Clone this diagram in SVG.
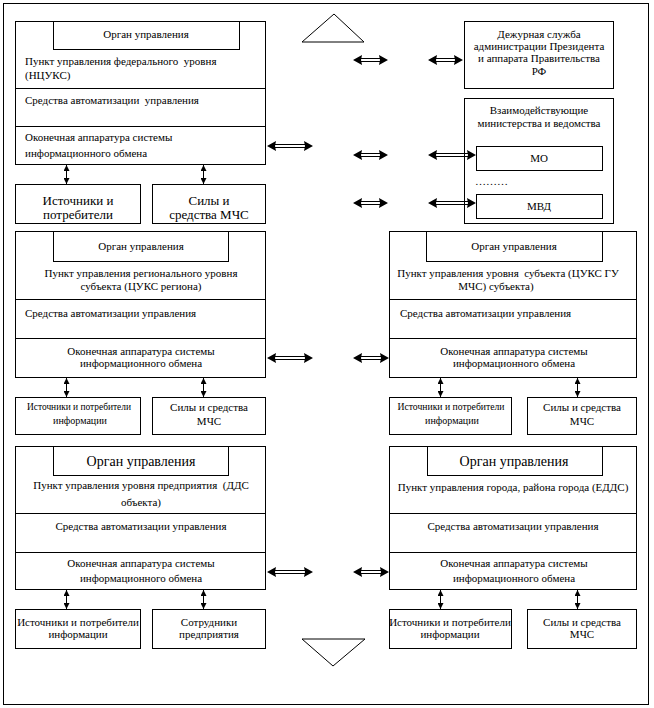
<svg xmlns="http://www.w3.org/2000/svg" width="654" height="708" viewBox="0 0 654 708">
<style>
.b{fill:#fff;stroke:#000;stroke-width:1}
.n{fill:none;stroke:#000;stroke-width:1}
.t{font-family:'Liberation Serif','Times New Roman','DejaVu Serif',serif;font-size:11px;fill:#000}
.s{font-size:10px}
.l{font-size:13px}
.xl{font-size:14px}
.c{text-anchor:middle}
.sh{stroke:#000;stroke-width:1;fill:none}
.hd{fill:#000;stroke:none}
</style>
<defs>
<marker id="vh" viewBox="0 0 6 6" refX="6" refY="3" markerWidth="6" markerHeight="6" markerUnits="userSpaceOnUse" orient="auto-start-reverse"><path d="M0,0 L6,3 L0,6 z" fill="#000"/></marker>
</defs>
<rect x="3.5" y="3.5" width="645" height="701" class="n"/>
<g id="tri-up"><polygon points="302,42 334,14 364,42" class="n"/></g>
<g id="tri-down"><polygon points="302,639 365,639 333,666" class="n"/></g>

<g id="federal">
<rect x="15.5" y="21.5" width="250" height="143" class="b"/>
<rect x="53.5" y="21.5" width="186" height="28" class="b"/>
<line x1="15.5" y1="88.5" x2="265.5" y2="88.5" class="n"/>
<line x1="15.5" y1="126.5" x2="265.5" y2="126.5" class="n"/>
<text class="t c" x="146" y="38">Орган управления</text>
<text class="t" x="25" y="65" xml:space="preserve">Пункт управления федерального  уровня</text>
<text class="t" x="25" y="79">(НЦУКС)</text>
<text class="t" x="25" y="104" xml:space="preserve">Средства автоматизации  управления</text>
<text class="t" x="25" y="141">Оконечная аппаратура системы</text>
<text class="t" x="25" y="157">информационного обмена</text>
</g>
<g id="fed-src">
<rect x="15.5" y="184.5" width="125" height="39" class="b"/>
<text class="t l c" x="78" y="205">Источники и</text>
<text class="t l c" x="78" y="219">потребители</text>
</g>
<g id="fed-forces">
<rect x="152.5" y="184.5" width="113" height="39" class="b"/>
<text class="t l c" x="209" y="205">Силы и</text>
<text class="t l c" x="209" y="219">средства МЧС</text>
</g>

<g id="president">
<rect x="464.5" y="21.5" width="149" height="67" class="b"/>
<text class="t c" x="539" y="38">Дежурная служба</text>
<text class="t c" x="539" y="50">администрации Президента</text>
<text class="t c" x="539" y="62">и аппарата Правительства</text>
<text class="t c" x="539" y="75">РФ</text>
</g>
<g id="ministries">
<rect x="464.5" y="98.5" width="149" height="125" class="b"/>
<text class="t c" x="539" y="114">Взаимодействующие</text>
<text class="t c" x="539" y="127">министерства и ведомства</text>
<text class="t" x="475" y="185">………</text>
</g>
<g id="mo">
<rect x="476.5" y="146.5" width="126" height="24" class="b"/>
<text class="t c" x="539" y="162">МО</text>
</g>
<g id="mvd">
<rect x="476.5" y="194.5" width="126" height="24" class="b"/>
<text class="t c" x="539" y="210">МВД</text>
</g>

<g id="regional">
<rect x="15.5" y="231.5" width="250" height="146" class="b"/>
<rect x="53.5" y="231.5" width="175" height="30" class="b"/>
<line x1="15.5" y1="299.5" x2="265.5" y2="299.5" class="n"/>
<line x1="15.5" y1="338.5" x2="265.5" y2="338.5" class="n"/>
<text class="t c" x="141" y="250">Орган управления</text>
<text class="t c" x="141" y="277">Пункт управления регионального уровня</text>
<text class="t c" x="141" y="290">субъекта (ЦУКС региона)</text>
<text class="t" x="25" y="317">Средства автоматизации управления</text>
<text class="t c" x="141" y="355">Оконечная аппаратура системы</text>
<text class="t c" x="141" y="367">информационного обмена</text>
</g>
<g id="reg-src">
<rect x="15.5" y="397.5" width="125" height="37" class="b"/>
<text class="t s c" x="79" y="410" textLength="104" lengthAdjust="spacingAndGlyphs">Источники и потребители</text>
<text class="t s c" x="80" y="424">информации</text>
</g>
<g id="reg-forces">
<rect x="152.5" y="397.5" width="113" height="37" class="b"/>
<text class="t c" x="209" y="411">Силы и средства</text>
<text class="t c" x="209" y="425">МЧС</text>
</g>

<g id="subject">
<rect x="389.5" y="231.5" width="247" height="146" class="b"/>
<rect x="426.5" y="231.5" width="176" height="30" class="b"/>
<line x1="389.5" y1="299.5" x2="636.5" y2="299.5" class="n"/>
<line x1="389.5" y1="338.5" x2="636.5" y2="338.5" class="n"/>
<text class="t c" x="514" y="250">Орган управления</text>
<text class="t c" x="508" y="277" xml:space="preserve">Пункт управления уровня  субъекта (ЦУКС ГУ</text>
<text class="t c" x="496" y="290">МЧС) субъекта)</text>
<text class="t" x="400" y="317">Средства автоматизации управления</text>
<text class="t c" x="514" y="355">Оконечная аппаратура системы</text>
<text class="t c" x="514" y="367">информационного обмена</text>
</g>
<g id="sub-src">
<rect x="389.5" y="397.5" width="122" height="37" class="b"/>
<text class="t s c" x="451" y="410" textLength="107" lengthAdjust="spacingAndGlyphs">Источники и потребители</text>
<text class="t s c" x="452" y="424">информации</text>
</g>
<g id="sub-forces">
<rect x="527.5" y="397.5" width="109" height="37" class="b"/>
<text class="t c" x="582" y="411">Силы и средства</text>
<text class="t c" x="582" y="425">МЧС</text>
</g>

<g id="enterprise">
<rect x="15.5" y="446.5" width="250" height="143" class="b"/>
<rect x="53.5" y="446.5" width="175" height="29" class="b"/>
<line x1="15.5" y1="513.5" x2="265.5" y2="513.5" class="n"/>
<line x1="15.5" y1="552.5" x2="265.5" y2="552.5" class="n"/>
<text class="t xl c" x="141" y="466">Орган управления</text>
<text class="t c" x="141" y="489" xml:space="preserve">Пункт управления уровня предприятия  (ДДС</text>
<text class="t c" x="141" y="506">объекта)</text>
<text class="t c" x="141" y="530">Средства автоматизации управления</text>
<text class="t c" x="141" y="567">Оконечная аппаратура системы</text>
<text class="t c" x="141" y="582">информационного обмена</text>
</g>
<g id="ent-src">
<rect x="15.5" y="609.5" width="125" height="39" class="b"/>
<text class="t c" x="78" y="626">Источники и потребители</text>
<text class="t c" x="78" y="638">информации</text>
</g>
<g id="ent-staff">
<rect x="152.5" y="609.5" width="113" height="39" class="b"/>
<text class="t c" x="209" y="626">Сотрудники</text>
<text class="t c" x="209" y="638">предприятия</text>
</g>

<g id="city">
<rect x="389.5" y="446.5" width="247" height="143" class="b"/>
<rect x="427.5" y="446.5" width="175" height="29" class="b"/>
<line x1="389.5" y1="513.5" x2="636.5" y2="513.5" class="n"/>
<line x1="389.5" y1="552.5" x2="636.5" y2="552.5" class="n"/>
<text class="t xl c" x="514" y="466">Орган управления</text>
<text class="t c" x="513" y="491">Пункт управления города, района города (ЕДДС)</text>
<text class="t c" x="513" y="530">Средства автоматизации управления</text>
<text class="t c" x="514" y="567">Оконечная аппаратура системы</text>
<text class="t c" x="514" y="582">информационного обмена</text>
</g>
<g id="city-src">
<rect x="389.5" y="609.5" width="122" height="39" class="b"/>
<text class="t c" x="450" y="626">Источники и потребители</text>
<text class="t c" x="450" y="638">информации</text>
</g>
<g id="city-forces">
<rect x="527.5" y="609.5" width="109" height="39" class="b"/>
<text class="t c" x="582" y="626">Силы и средства</text>
<text class="t c" x="582" y="638">МЧС</text>
</g>

<g id="connectors">
<g>
<path class="sh" d="M275 144.5H305M275 147.5H305"/><path class="hd" d="M267 146L276 141L275 146L276 151ZM313 146L304 141L305 146L304 151Z"/>
<path class="sh" d="M361 58.5H380M361 61.5H380"/><path class="hd" d="M353 60L362 55L361 60L362 65ZM388 60L379 55L380 60L379 65Z"/>
<path class="sh" d="M436 58.5H455M436 61.5H455"/><path class="hd" d="M428 60L437 55L436 60L437 65ZM463 60L454 55L455 60L454 65Z"/>
<path class="sh" d="M361 153.5H380M361 156.5H380"/><path class="hd" d="M353 155L362 150L361 155L362 160ZM388 155L379 150L380 155L379 160Z"/>
<path class="sh" d="M436 153.5H468M436 156.5H468"/><path class="hd" d="M428 155L437 150L436 155L437 160ZM476 155L467 150L468 155L467 160Z"/>
<path class="sh" d="M361 201.5H380M361 204.5H380"/><path class="hd" d="M353 203L362 198L361 203L362 208ZM388 203L379 198L380 203L379 208Z"/>
<path class="sh" d="M436 201.5H468M436 204.5H468"/><path class="hd" d="M428 203L437 198L436 203L437 208ZM476 203L467 198L468 203L467 208Z"/>
<path class="sh" d="M275 356.5H305M275 359.5H305"/><path class="hd" d="M267 358L276 353L275 358L276 363ZM313 358L304 353L305 358L304 363Z"/>
<path class="sh" d="M361 356.5H381M361 359.5H381"/><path class="hd" d="M353 358L362 353L361 358L362 363ZM389 358L380 353L381 358L380 363Z"/>
<path class="sh" d="M275 570.5H305M275 573.5H305"/><path class="hd" d="M267 572L276 567L275 572L276 577ZM313 572L304 567L305 572L304 577Z"/>
<path class="sh" d="M361 570.5H381M361 573.5H381"/><path class="hd" d="M353 572L362 567L361 572L362 577ZM389 572L380 567L381 572L380 577Z"/>
</g>
<g class="sh">
<path d="M66.5 165V184" marker-start="url(#vh)" marker-end="url(#vh)"/>
<path d="M203.5 165V184" marker-start="url(#vh)" marker-end="url(#vh)"/>
<path d="M66.5 378V397" marker-start="url(#vh)" marker-end="url(#vh)"/>
<path d="M203.5 378V397" marker-start="url(#vh)" marker-end="url(#vh)"/>
<path d="M440.5 378V397" marker-start="url(#vh)" marker-end="url(#vh)"/>
<path d="M577.5 378V397" marker-start="url(#vh)" marker-end="url(#vh)"/>
<path d="M66.5 590V609" marker-start="url(#vh)" marker-end="url(#vh)"/>
<path d="M203.5 590V609" marker-start="url(#vh)" marker-end="url(#vh)"/>
<path d="M440.5 590V609" marker-start="url(#vh)" marker-end="url(#vh)"/>
<path d="M577.5 590V609" marker-start="url(#vh)" marker-end="url(#vh)"/>
</g>
</g>
</svg>
